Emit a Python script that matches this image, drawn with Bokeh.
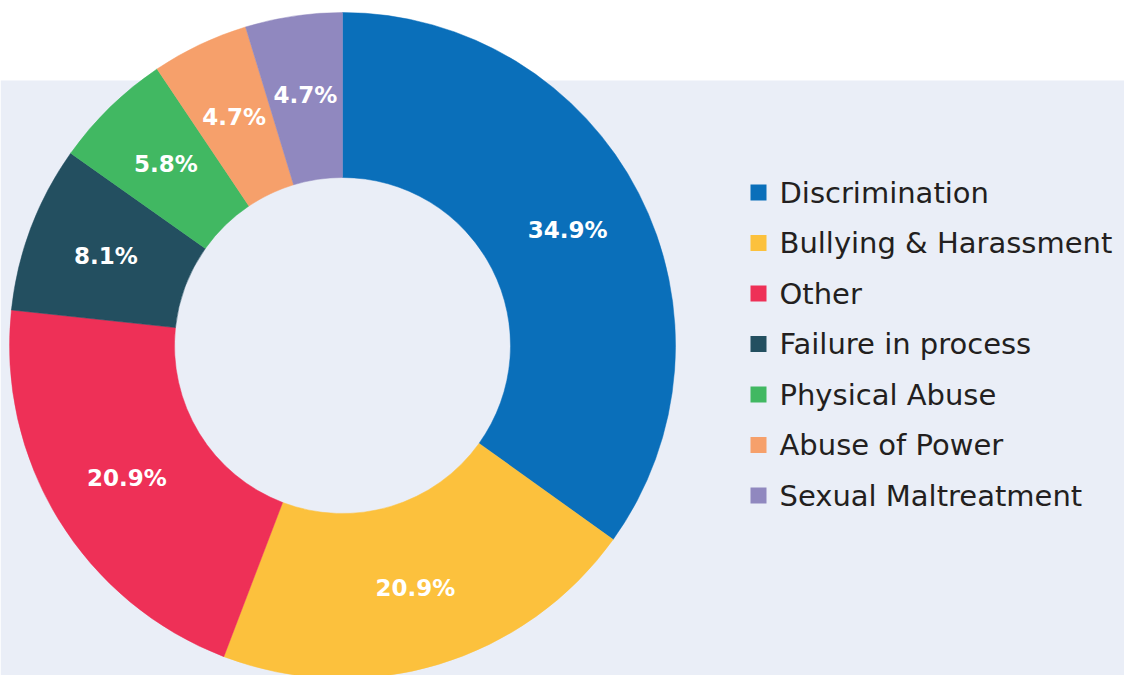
from math import pi, sin, cos
from bokeh.plotting import figure
from bokeh.models import Range1d, BoxAnnotation, ColumnDataSource
from bokeh.core.properties import value
from bokeh.embed import file_html
from bokeh.resources import INLINE

categories = ["Discrimination", "Bullying & Harassment", "Other", "Failure in process",
              "Physical Abuse", "Abuse of Power", "Sexual Maltreatment"]
percents = [34.9, 20.9, 20.9, 8.1, 5.8, 4.7, 4.7]
colors = ["#0A6FBA", "#FCC13D", "#EE3057", "#234F60", "#41B862", "#F6A06B", "#9088BF"]

W, H = 1124, 675
# data coords: x = image px, y = 675 - image px
p = figure(width=W, height=H, x_range=Range1d(0, W), y_range=Range1d(0, H),
           output_backend="svg", toolbar_location=None, min_border=0)
p.axis.visible = False
p.grid.visible = False
p.outline_line_color = None
p.background_fill_color = "white"
p.border_fill_color = "white"

p.add_layout(BoxAnnotation(top=H - 80, fill_color="#EAEEF7", fill_alpha=1, line_color=None, level="underlay"))

cx, cy = 342, H - 345
r_out, r_in = 333, 168
total = sum(percents)
starts, ends, lx, ly, labels = [], [], [], [], []
cum = 0.0
for v in percents:
    a0 = pi / 2 - 2 * pi * (cum + v) / total
    a1 = pi / 2 - 2 * pi * cum / total
    starts.append(a0)
    ends.append(a1)
    mid = (a0 + a1) / 2
    rl = 253
    lx.append(cx + rl * cos(mid))
    ly.append(cy + rl * sin(mid))
    labels.append(f"{v:.1f}%")
    cum += v

src = ColumnDataSource(dict(start=starts, end=ends, color=colors, lx=lx, ly=ly, label=labels, cat=categories))
p.annular_wedge(x=cx, y=cy, inner_radius=r_in, outer_radius=r_out, start_angle="start", end_angle="end",
                fill_color="color", line_color="color", line_width=0.5, source=src)
p.text(x="lx", y="ly", text="label", source=src, text_color="white", text_font=value("DejaVu Sans"),
       text_font_style="bold", text_font_size="23px", text_align="center", text_baseline="middle")

# legend
leg_x = [758] * len(categories)
leg_y = [H - (192 + i * 50.5) for i in range(len(categories))]
tx = [779] * len(categories)
lsrc = ColumnDataSource(dict(x=leg_x, y=leg_y, tx=tx, cat=categories, color=colors))
p.rect(x="x", y="y", width=16, height=16, fill_color="color", line_color=None, source=lsrc)
p.text(x="tx", y="y", text="cat", source=lsrc, text_color="#231F20", text_font=value("DejaVu Sans"),
       text_font_size="29px", text_align="left", text_baseline="middle")

open("out.html", "w").write(file_html(p, INLINE))
